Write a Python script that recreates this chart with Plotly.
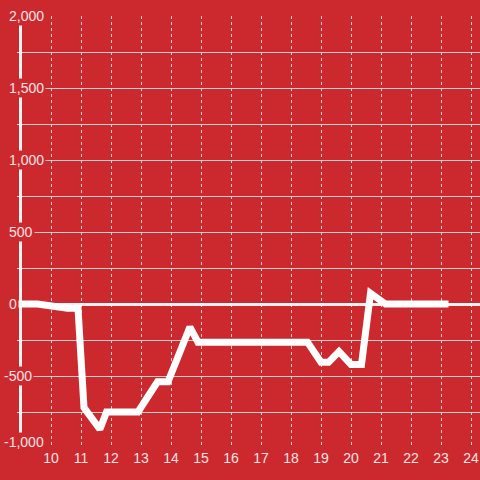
import plotly.graph_objects as go

x_vals = [8.7, 9.55, 10.55, 10.9, 11.1, 11.63, 11.85, 12.9, 13.55, 13.9, 14.63, 14.9,
          18.55, 19.0, 19.25, 19.6, 20.0, 20.35, 20.65, 21.15, 23.25]
y_vals = [0, 0, -30, -30, -720, -870, -750, -750, -540, -540, -160, -265,
          -265, -405, -405, -330, -420, -420, 75, 0, 0]

y_label_vals = [2000, 1500, 1000, 500, 0, -500, -1000]
y_label_text = ["2,000", "1,500", "1,000", "500", "0", "-500", "-1,000"]
x_tick_vals = list(range(10, 25))

BG = "#cc292f"
GRID = "#cfcfcf"
LABEL = "#f6e4e4"

ML = 17


def px_to_x(p):
    return 10 + (p - 51) / 30


def px_to_paper(p):
    return (p - ML) / (480 - ML)


fig = go.Figure()
fig.add_trace(go.Scatter(x=x_vals, y=y_vals, mode="lines",
                         line=dict(color="white", width=7), hoverinfo="skip"))

fig.update_layout(
    width=480, height=480,
    paper_bgcolor=BG, plot_bgcolor=BG,
    margin=dict(l=ML, r=0, t=16, b=32, autoexpand=False),
    showlegend=False,
    font=dict(family="Liberation Sans, Arial, sans-serif", size=14, color=LABEL),
    xaxis=dict(range=[px_to_x(ML), px_to_x(480)], automargin=False,
               tickvals=x_tick_vals, ticks="", showline=False, zeroline=False,
               showgrid=True, gridcolor=GRID, gridwidth=1, griddash="dot",
               tickfont=dict(size=14, color=LABEL)),
    yaxis=dict(range=[-1000, 2000], dtick=250, showticklabels=False, ticks="",
               showgrid=True, gridcolor=GRID, gridwidth=1, automargin=False,
               zeroline=True, zerolinecolor="#f2f2f2", zerolinewidth=3,
               showline=False),
)

# vertical white axis line
fig.add_shape(type="line", xref="x", yref="y",
              x0=px_to_x(20.5), x1=px_to_x(20.5),
              y0=1944, y1=-896, line=dict(color="#f4f4f4", width=3), layer="above")
# bottom baseline starts right of the label area
fig.add_shape(type="rect", xref="x", yref="y",
              x0=px_to_x(15), x1=px_to_x(49.5), y0=-1015, y1=-985,
              line=dict(width=0), fillcolor=BG, layer="above")

for v, t in zip(y_label_vals, y_label_text):
    left_px = 2.3 if v < 0 else 6.5
    fig.add_annotation(x=px_to_paper(left_px), y=v, xref="paper", yref="y",
                       text=t, showarrow=False, xanchor="left", yanchor="middle",
                       bgcolor=BG, borderpad=1,
                       yshift=6 if v == -1000 else 0,
                       font=dict(size=14, color=LABEL))

fig.write_html("out.html", config={"displayModeBar": False},
               post_script="document.body.style.margin='0';")
